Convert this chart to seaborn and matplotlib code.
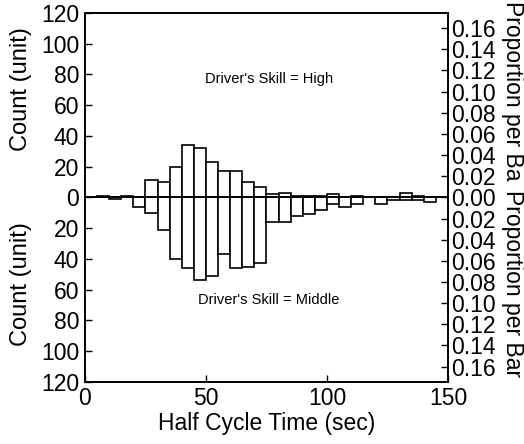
import numpy as np
import pandas as pd
import matplotlib
matplotlib.use("Agg")
import matplotlib.pyplot as plt
import seaborn as sns

# 5-second bins of half cycle time
bin_edges = list(range(0, 155, 5))
# counts per bin
high_counts = [0, 1, 0, 1, 0, 11, 10, 20, 34, 32, 23, 17, 17, 10, 7,
               2, 3, 1, 1, 1, 2, 0, 1, 0, 0, 0, 3, 1, 0, 0]
middle_counts = [0, 0, 1, 0, 6, 10, 21, 40, 46, 54, 51, 37, 46, 45, 43,
                 16, 16, 12, 11, 8, 4, 6, 4, 0, 4, 2, 2, 2, 3, 0]
y_ticks = [-120, -100, -80, -60, -40, -20, 0, 20, 40, 60, 80, 100, 120]
prop_ticks = np.round(np.arange(-0.16, 0.161, 0.02), 2)
x_ticks = [0, 50, 100, 150]

sns.set_style("ticks", {"text.color": "black", "axes.labelcolor": "black",
                        "xtick.color": "black", "ytick.color": "black",
                        "axes.edgecolor": "black"})
plt.rcParams['font.family'] = ['Liberation Sans', 'DejaVu Sans']
fs = 16.5

centers = np.array(bin_edges[:-1]) + 2.5
df = pd.DataFrame({
    "time": np.concatenate([centers, centers]),
    # middle skill is drawn downwards
    "count": np.concatenate([high_counts, -np.array(middle_counts)]),
    "skill": ["High"] * len(centers) + ["Middle"] * len(centers),
})
total = float(np.sum(high_counts) + np.sum(middle_counts))

fig = plt.figure(figsize=(5.24, 4.44), dpi=100)
ax = fig.add_axes([0.162, 0.140, 0.693, 0.831])

for skill, sub in df.groupby("skill"):
    sns.histplot(data=sub, x="time", weights="count", bins=bin_edges, ax=ax,
                 color="white", edgecolor="black", linewidth=1.2, alpha=1)

ax.axhline(0, color="black", lw=1.2)
ax.set_xlim(0, 150)
ax.set_ylim(-120, 120)
ax.set_yticks(y_ticks)
ax.set_yticklabels([str(abs(t)) for t in y_ticks])
ax.set_xticks(x_ticks)
ax.set_xlabel("Half Cycle Time (sec)", fontsize=fs, labelpad=1)
ax.set_ylabel("")
ax.tick_params(direction="in", length=5, width=1, labelsize=fs, pad=4)
for s in ax.spines.values():
    s.set_linewidth(1.2)
    s.set_visible(True)

ax2 = ax.twinx()
ax2.set_ylim(-120 / total, 120 / total)
ax2.set_yticks(prop_ticks)
ax2.set_yticklabels([f"{abs(t):.2f}" for t in prop_ticks])
ax2.tick_params(direction="in", length=5, width=1, labelsize=fs, pad=2)
for s in ax2.spines.values():
    s.set_linewidth(1.2)

ax.text(76, 77, "Driver's Skill = High", ha="center", va="center", fontsize=10.5)
ax.text(76, -67, "Driver's Skill = Middle", ha="center", va="center", fontsize=10.5)

fig.text(0.040, 0.80, "Count (unit)", rotation=90, ha="center", va="center", fontsize=fs + 0.5)
fig.text(0.040, 0.36, "Count (unit)", rotation=90, ha="center", va="center", fontsize=fs + 0.5)
fig.text(0.978, 0.997, "Proportion per Ba", rotation=270, ha="center", va="top", fontsize=fs)
fig.text(0.978, 0.572, "Proportion per Bar", rotation=270, ha="center", va="top", fontsize=fs)

fig.savefig("out.png", dpi=100)
